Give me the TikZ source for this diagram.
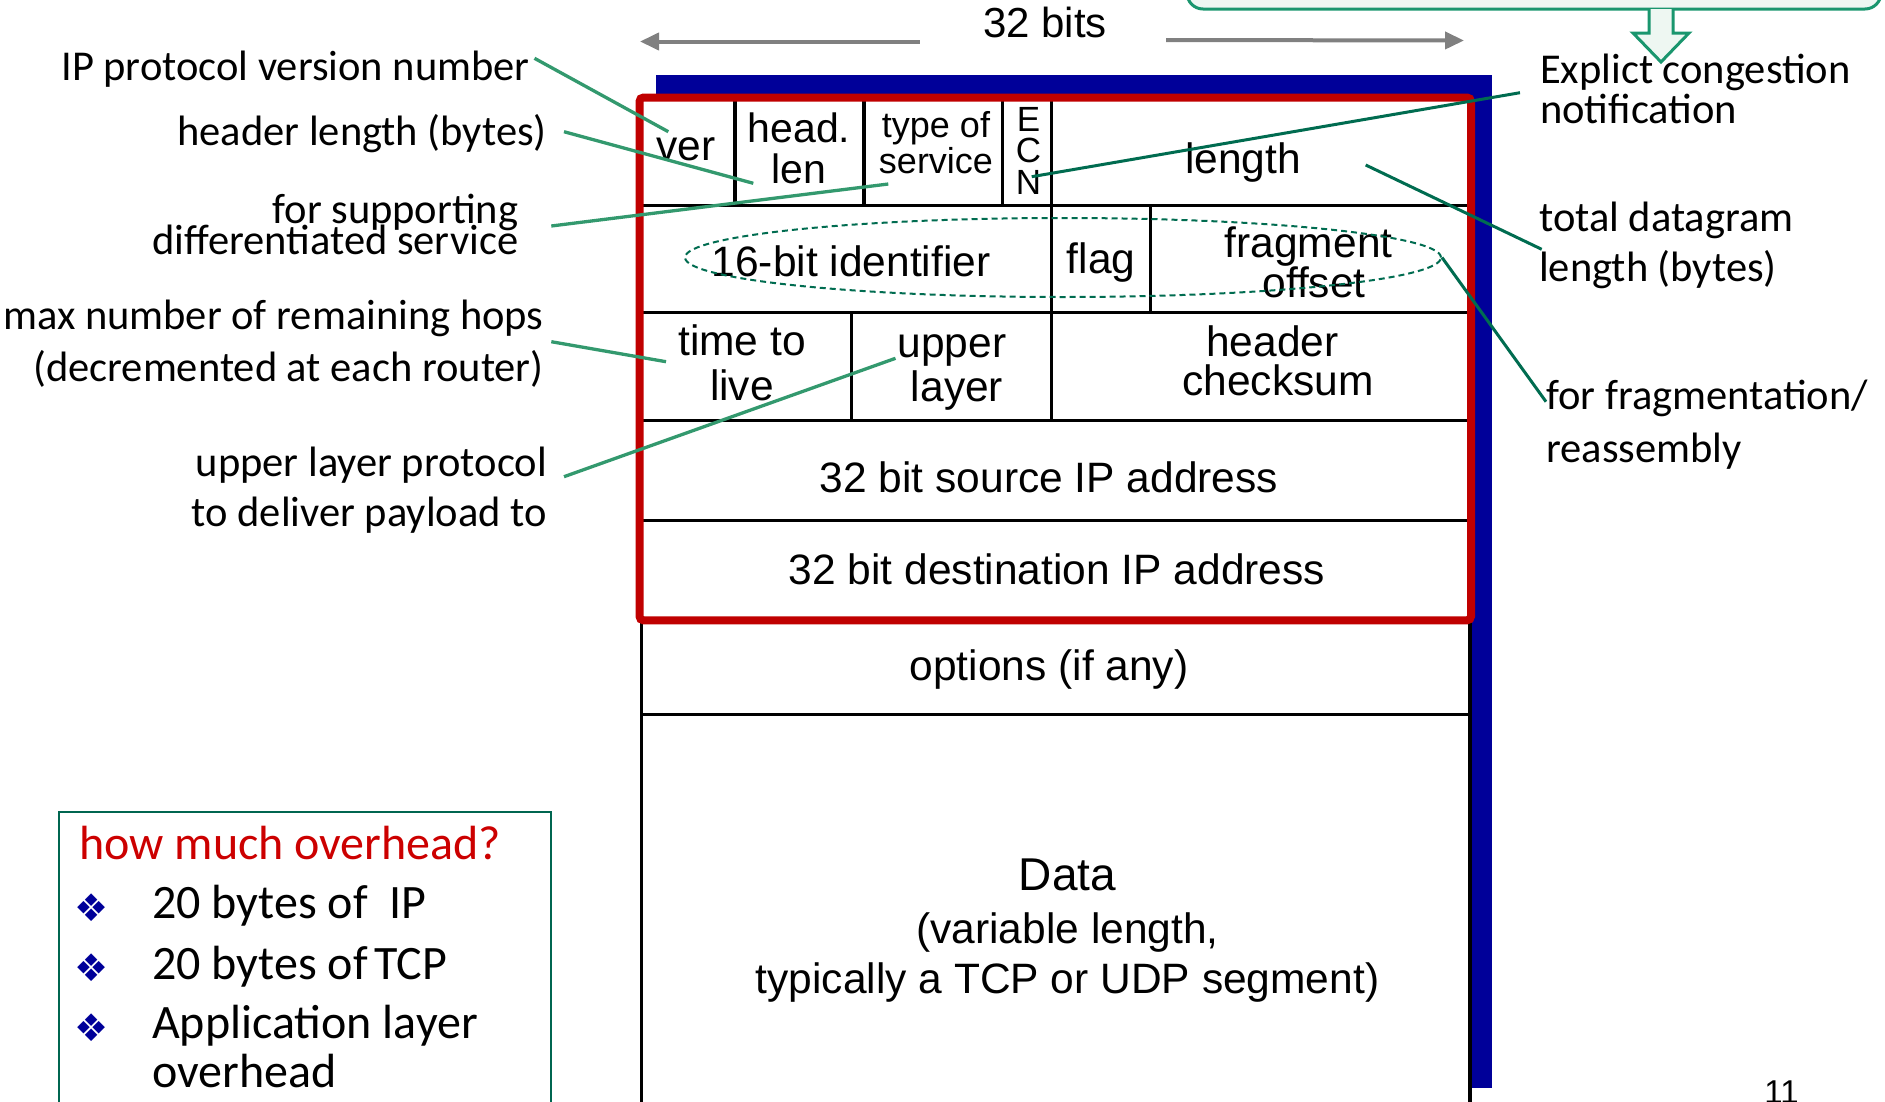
\documentclass[tikz,border=0pt]{standalone}
\usepackage{fontspec}
\setmainfont{Liberation Sans}
\newfontfamily\notefont{Carlito}
\newfontfamily\symfont{DejaVu Sans}
\usetikzlibrary{arrows.meta,shapes.geometric}

\definecolor{hdrblue}{RGB}{0,0,153}
\definecolor{hdrred}{RGB}{192,0,0}
\definecolor{leadlight}{RGB}{51,153,110}
\definecolor{leaddark}{RGB}{0,108,80}
\definecolor{rulegray}{RGB}{128,128,128}
\definecolor{notefill}{RGB}{238,247,242}
\definecolor{noteedge}{RGB}{26,150,110}
\definecolor{boxedge}{RGB}{0,102,80}
\definecolor{askred}{RGB}{204,0,0}

\tikzset{
  cell/.style={font=\fontsize{42.5}{44}\selectfont, inner sep=0pt, anchor=base},
  smallcell/.style={cell, font=\fontsize{36}{38}\selectfont},
  midcell/.style={cell, font=\fontsize{41}{43}\selectfont},
  ecncell/.style={cell, font=\fontsize{35}{36}\selectfont},
  ann/.style={font=\notefont\fontsize{42.5}{44}\selectfont, inner sep=0pt},
  annL/.style={ann, anchor=base east},
  annR/.style={ann, anchor=base west},
  boxtxt/.style={font=\notefont\fontsize{48}{50}\selectfont, inner sep=0pt, anchor=base west},
  gridline/.style={line width=3.3pt, black},
  leadA/.style={leadlight, line width=3.3pt},
  leadB/.style={leaddark, line width=3pt},
  widthrule/.style={rulegray, line width=4pt, -{Triangle[length=19pt,width=17pt]}},
}

\begin{document}
\begin{tikzpicture}[x=1pt, y=-1pt]
\useasboundingbox (0,0) rectangle (1885,1101);
\clip (0,0) rectangle (1885,1101);

% note box at the top right with its hollow arrow
\draw[noteedge, fill=notefill, line width=3pt, rounded corners=16pt] (1187,-40) rectangle (1881,9);
\filldraw[noteedge, fill=notefill, line width=3pt] (1649,9) -- (1649,33) -- (1633,33) -- (1661,62) -- (1689,33) -- (1673,33) -- (1673,9);

% 32-bit width marker
\node[cell, font=\fontsize{42}{44}\selectfont] (bits) at (1045,37.5) {32 bits};
\coordinate (wl0) at (919.7,41.5);
\coordinate (wl1) at (640,41.5);
\coordinate (wr0) at (1166,40);
\coordinate (wr1) at (1464,40.5);
\draw[widthrule] (wl0) -- (wl1);
\draw[widthrule] (wr0) -- (wr1);

% shadow and body of the header table
\fill[hdrblue] (656,75) rectangle (1491.7,1088);
\fill[white] (641.7,98) rectangle (1470,1120);

% table rules
\draw[gridline] (641.7,98) -- (641.7,1120);
\draw[gridline] (1470,98) -- (1470,1120);
\foreach \yy in {205.7,312.3,420.8,520.6,620.3,714.3}
  \draw[gridline] (641.7,\yy) -- (1470,\yy);
\foreach \xx in {735,864,1002.3,1051.7}
  \draw[gridline] (\xx,98) -- (\xx,205.7);
\foreach \xx in {1051.7,1150.3}
  \draw[gridline] (\xx,205.7) -- (\xx,312.3);
\foreach \xx in {851.7,1051.7}
  \draw[gridline] (\xx,312.3) -- (\xx,420.8);

% the 20-byte fixed header
\draw[hdrred, line width=8pt, rounded corners=4pt] (639.5,97.5) rectangle (1471,620.3);

% row 1
\node[cell] (ver) at (686,160) {ver};
\node[midcell] (hl1) at (799,142.3) {head.};
\node[midcell] (hl2) at (799,183.3) {len};
\node[smallcell] (tos1) at (936,137.3) {type of};
\node[smallcell] (tos2) at (936,173.3) {service};
\node[ecncell] (ecnE) at (1028.5,131) {E};
\node[ecncell] (ecnC) at (1028.5,162.5) {C};
\node[ecncell] (ecnN) at (1028.5,194) {N};
\node[cell] (len) at (1243,173.3) {length};
% row 2
\node[cell] (ident) at (851,276.7) {16-bit identifier};
\node[cell] (flag) at (1101,273.3) {flag};
\node[cell] (frag1) at (1308.6,257) {fragment};
\node[cell] (frag2) at (1314,297) {offset};
% row 3
\node[cell] (ttl1) at (742,355) {time to};
\node[cell] (ttl2) at (742,400) {live};
\node[cell] (up1) at (952,357) {upper};
\node[cell] (up2) at (957,401) {layer};
\node[cell] (ck1) at (1272.5,356) {header};
\node[cell] (ck2) at (1278,395) {checksum};
% rows 4 to 6
\node[cell] (src) at (1049,492.5) {32 bit source IP address};
\node[cell] (dst) at (1057,584) {32 bit destination IP address};
\node[cell] (opt) at (1049,680) {options (if any)};
% payload
\node[cell, font=\fontsize{46}{48}\selectfont] (data1) at (1067.5,890) {Data};
\node[cell] (data2) at (1067.5,943) {(variable length,};
\node[cell] (data3) at (1067.5,993) {typically a TCP or UDP segment)};

% fragmentation fields highlighted
\node[draw=leaddark, line width=2pt, dash pattern=on 6pt off 4pt, ellipse, inner sep=0pt,
      minimum width=756pt, minimum height=79pt] (fragsel) at (1063,257.5) {};

% left-hand notes
\node[annL] (nver) at (530,80) {IP protocol version number};
\node[annL] (nhl) at (547,145) {header length (bytes)};
\node[annL] (ntos1) at (518.5,223) {for supporting};
\node[annL] (ntos2) at (518.5,254) {differentiated service};
\node[annL] (nttl1) at (543.8,329) {max number of remaining hops};
\node[annL] (nttl2) at (543.8,381) {(decremented at each router)};
\node[annL] (nup1) at (547,476) {upper layer protocol};
\node[annL] (nup2) at (547,526) {to deliver payload to};

% right-hand notes
\node[annR] (necn1) at (1540,83) {Explict congestion};
\node[annR] (necn2) at (1540,123) {notification};
\node[annR] (nlen1) at (1539,231) {total datagram};
\node[annR] (nlen2) at (1539,281) {length (bytes)};
\node[annR] (nfrag1) at (1546,409) {for fragmentation/};
\node[annR] (nfrag2) at (1546,462) {reassembly};

% overhead box
\draw[boxedge, line width=2pt] (59.3,811.7) rectangle (550.8,1130);
\node[boxtxt, text=askred] (ask) at (79,859) {how much overhead?};
\foreach \i/\yy in {1/908,2/968,3/1028}
  \node[text=hdrblue, font=\symfont\fontsize{38}{38}\selectfont, inner sep=0pt] (blt\i) at (92,\yy) {❖};
\node[boxtxt] (ov1) at (152,918) {20 bytes of\ \ IP};
\node[boxtxt] (ov2) at (152,979) {20 bytes of\kern-4pt\ TCP};
\node[boxtxt] (ov3) at (152,1038) {Application layer};
\node[boxtxt] (ov4) at (152,1087) {overhead};

% slide number
\node[cell, font=\fontsize{33}{34}\selectfont] (pgno) at (1781.6,1103) {11};

% leader lines
\coordinate (lverA) at (534.5,58.3);   \coordinate (lverB) at (668.3,131.7);
\coordinate (lhlA) at (564,131.7);     \coordinate (lhlB) at (753.3,183.3);
\coordinate (ltosA) at (551.3,226);    \coordinate (ltosB) at (888.3,184);
\coordinate (lttlA) at (551.3,341.7);  \coordinate (lttlB) at (666,361.7);
\coordinate (lupA) at (564,476.7);     \coordinate (lupB) at (895.5,358.3);
\coordinate (lecnA) at (1031.7,176.7); \coordinate (lecnB) at (1520,92.7);
\coordinate (llenA) at (1365.7,165);   \coordinate (llenB) at (1541.7,249.3);
\coordinate (lfragB) at (1546,401.7);
\draw[leadA] (lverA) -- (lverB);
\draw[leadA] (lhlA) -- (lhlB);
\draw[leadA] (ltosA) -- (ltosB);
\draw[leadA] (lttlA) -- (lttlB);
\draw[leadA] (lupA) -- (lupB);
\draw[leadB] (lecnA) -- (lecnB);
\draw[leadB] (llenA) -- (llenB);
\draw[leadB] (fragsel.east) -- (lfragB);
\end{tikzpicture}
\end{document}
